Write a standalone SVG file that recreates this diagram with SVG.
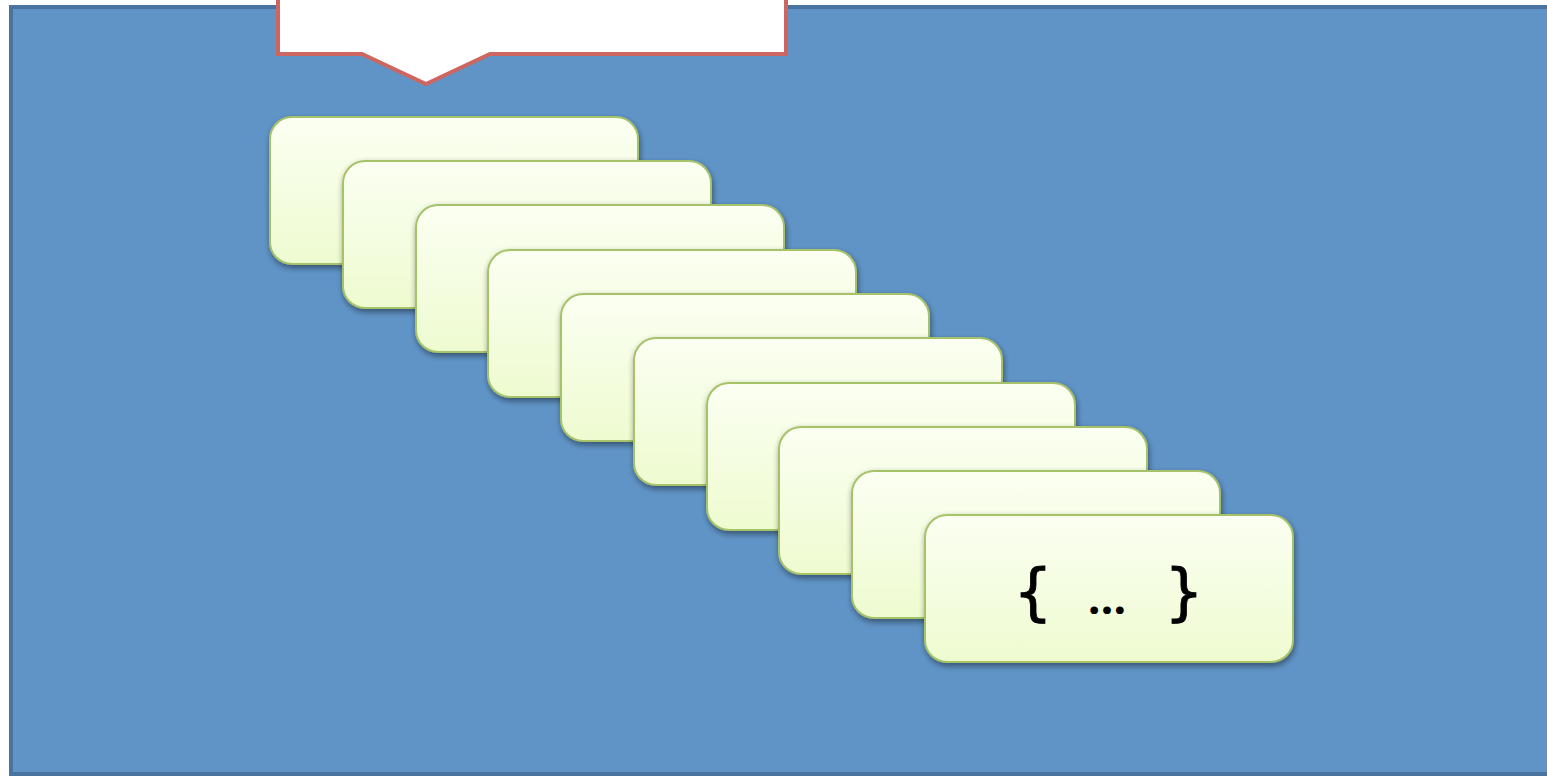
<svg xmlns="http://www.w3.org/2000/svg" width="1547" height="777" viewBox="0 0 1547 777">
<defs>
<linearGradient id="cardGrad" x1="0" y1="0" x2="0" y2="1">
<stop offset="0" stop-color="#fbfff2"/>
<stop offset="1" stop-color="#eefbd0"/>
</linearGradient>
<filter id="shadow" x="-10%" y="-10%" width="125%" height="130%">
<feGaussianBlur in="SourceAlpha" stdDeviation="3"/>
<feOffset dx="1" dy="3" result="b"/>
<feComponentTransfer><feFuncA type="linear" slope="0.45"/></feComponentTransfer>
<feMerge><feMergeNode/><feMergeNode in="SourceGraphic"/></feMerge>
</filter>
</defs>
<style>
.card{fill:url(#cardGrad);stroke:#a6c36a;stroke-width:2;filter:url(#shadow)}
.label{font-family:"DejaVu Sans",sans-serif;font-size:62px;fill:#000;stroke:#000;stroke-width:0.8}
.dots{font-family:"Open Sans","DejaVu Sans",sans-serif;font-size:45px;font-weight:bold;stroke-width:0}
</style>
<rect width="1547" height="777" fill="#ffffff"/>
<g id="background">
<rect x="11" y="7" width="1545" height="767" fill="#6094c7" stroke="#4a74a0" stroke-width="4"/>
</g>
<g id="callout">
<path d="M278,-10 L786,-10 L786,54 L490,54 L426,84 L362,54 L278,54 Z" fill="#ffffff" stroke="#cd6660" stroke-width="4" stroke-linejoin="miter"/>
</g>
<g id="cards">
<g id="card1"><rect class="card" x="270" y="117" width="368" height="147" rx="22"/></g>
<g id="card2"><rect class="card" x="343" y="161" width="368" height="147" rx="22"/></g>
<g id="card3"><rect class="card" x="416" y="205" width="368" height="147" rx="22"/></g>
<g id="card4"><rect class="card" x="488" y="250" width="368" height="147" rx="22"/></g>
<g id="card5"><rect class="card" x="561" y="294" width="368" height="147" rx="22"/></g>
<g id="card6"><rect class="card" x="634" y="338" width="368" height="147" rx="22"/></g>
<g id="card7"><rect class="card" x="707" y="383" width="368" height="147" rx="22"/></g>
<g id="card8"><rect class="card" x="779" y="427" width="368" height="147" rx="22"/></g>
<g id="card9"><rect class="card" x="852" y="471" width="368" height="147" rx="22"/></g>
<g id="card10"><rect class="card" x="925" y="515" width="368" height="147" rx="22"/>
<text class="label" y="613" text-anchor="middle"><tspan x="1033">{</tspan><tspan class="dots" x="1107" y="614">…</tspan><tspan x="1184" y="613">}</tspan></text></g>
</g>
<g id="connectors"/>
</svg>
